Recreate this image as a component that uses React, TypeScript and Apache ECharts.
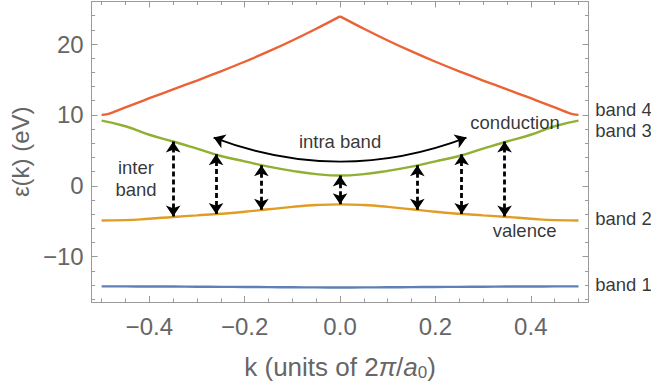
import React, { useEffect, useRef } from "react";
import * as echarts from "echarts";

// ---- data ----
const kGrid = [-0.5, -0.45, -0.4, -0.35, -0.3, -0.25, -0.2, -0.15, -0.1, -0.05, 0, 0.05, 0.1, 0.15, 0.2, 0.25, 0.3, 0.35, 0.4, 0.45, 0.5];
const band1 = [-14.2, -14.2, -14.21, -14.22, -14.24, -14.26, -14.28, -14.3, -14.32, -14.34, -14.35, -14.34, -14.32, -14.3, -14.28, -14.26, -14.24, -14.22, -14.21, -14.2, -14.2];
const band2 = [-4.9, -4.85, -4.65, -4.4, -4.18, -3.95, -3.67, -3.32, -2.98, -2.72, -2.62, -2.72, -2.98, -3.32, -3.67, -3.95, -4.18, -4.4, -4.65, -4.85, -4.9];
const band3 = [9.2, 8.4, 7.2, 6.25, 5.24, 4.2, 3.45, 2.7, 2.1, 1.65, 1.45, 1.65, 2.1, 2.7, 3.45, 4.2, 5.24, 6.25, 7.2, 8.4, 9.2];
// band 4 has a cusp at k = 0: left and right branches
const k4Left = [-0.5, -0.49, -0.475, -0.45, -0.425, -0.4, -0.35, -0.3, -0.25, -0.2, -0.15, -0.1, -0.05, 0];
const band4Left = [10.0, 10.08, 10.4, 11.05, 11.7, 12.35, 13.6, 14.85, 16.15, 17.5, 18.95, 20.5, 22.15, 23.9];
const k4Right = [0, 0.05, 0.1, 0.15, 0.2, 0.25, 0.3, 0.35, 0.4, 0.425, 0.45, 0.475, 0.49, 0.5];
const band4Right = [23.9, 22.15, 20.5, 18.95, 17.5, 16.15, 14.85, 13.6, 12.35, 11.7, 11.05, 10.4, 10.08, 10.0];

// inter-band transition arrows
const arrowK = [-0.35, -0.26, -0.165, 0, 0.162, 0.255, 0.345];
const arrowBottom = [-4.35, -4.0, -3.4, -2.62, -3.4, -4.0, -4.35];
const arrowTop = [6.25, 4.45, 2.9, 1.45, 2.9, 4.45, 6.25];

// intra-band arrow (start, end)
const intraStart = [-0.265, 6.8];
const intraEnd = [0.265, 6.8];

// text annotations
const noteText = ["inter\nband", "intra band", "conduction", "valence"];
const noteK = [-0.428, 0, 0.367, 0.387];
const noteE = [1.0, 6.2, 8.9, -6.3];

const bandLabels = ["band 4", "band 3", "band 2", "band 1"];
const bandLabelE = [10.75, 7.8, -4.6, -13.9];
const bandLabelK = 0.535;

const xMajor = [-0.4, -0.2, 0, 0.2, 0.4];
const xMinor = [-0.5, -0.45, -0.35, -0.3, -0.25, -0.15, -0.1, -0.05, 0.05, 0.1, 0.15, 0.25, 0.3, 0.35, 0.45, 0.5];
const yMajor = [-10, 0, 10, 20];
const yMinor = [-16, -14, -12, -8, -6, -4, -2, 2, 4, 6, 8, 12, 14, 16, 18, 22, 24, 26];

const FONT = "'Liberation Sans', Arial, Helvetica, sans-serif";
const FRAME = "#9a9a9a";
const LABEL = "#666666";

const fmtX = (v: number) => (Math.abs(v) < 1e-9 ? "0.0" : (v < 0 ? "\u2212" : "") + Math.abs(v).toFixed(1));
const fmtY = (v: number) => (v < 0 ? "\u2212" + Math.abs(v) : String(v));

function xAx(pos: "top" | "bottom", major: boolean, extra: any = {}) {
  return {
    type: "value",
    gridIndex: 0,
    min: -0.521,
    max: 0.521,
    position: pos,
    axisLine: { show: major, onZero: false, lineStyle: { color: FRAME, width: 1 } },
    axisTick: {
      show: true,
      inside: true,
      length: major ? 6 : 3.5,
      customValues: major ? xMajor : xMinor,
      lineStyle: { color: FRAME, width: 1 },
    },
    axisLabel: { show: false },
    splitLine: { show: false },
    ...extra,
  };
}

function yAx(pos: "left" | "right", major: boolean, extra: any = {}) {
  return {
    type: "value",
    gridIndex: 0,
    min: -16.4,
    max: 26,
    position: pos,
    axisLine: { show: major, onZero: false, lineStyle: { color: FRAME, width: 1 } },
    axisTick: {
      show: true,
      inside: true,
      length: major ? 6 : 3.5,
      customValues: major ? yMajor : yMinor,
      lineStyle: { color: FRAME, width: 1 },
    },
    axisLabel: { show: false },
    splitLine: { show: false },
    ...extra,
  };
}

export default function App() {
  const ref = useRef<HTMLDivElement>(null);
  useEffect(() => {
    if (!ref.current) return;
    const chart = echarts.init(ref.current, undefined, { renderer: "svg" });
    const lineSeries = (data: number[][], color: string, smooth: boolean | number) => ({
      type: "line",
      xAxisIndex: 0,
      yAxisIndex: 0,
      data,
      smooth,
      showSymbol: false,
      symbol: "none",
      lineStyle: { color, width: 2.4 },
      silent: true,
      z: 3,
    });
    const option: any = {
      animation: false,
      backgroundColor: "#ffffff",
      grid: { left: 91, top: 1.5, width: 497.5, height: 306.8, containLabel: false },
      xAxis: [
        xAx("bottom", true, {
          axisLabel: {
            show: true,
            customValues: xMajor,
            formatter: fmtX,
            color: LABEL,
            fontSize: 24,
            fontFamily: FONT,
            margin: 12,
          },
          name: "{t|k (units of 2}{i|\u03c0}{t|/}{i|a}{s|0}{t|)}",
          nameLocation: "middle",
          nameGap: 51,
          nameTextStyle: {
            color: LABEL,
            fontSize: 26,
            fontFamily: FONT,
            rich: {
              t: { color: LABEL, fontSize: 26, fontFamily: FONT },
              i: { color: LABEL, fontSize: 26, fontFamily: FONT, fontStyle: "italic" },
              s: { color: LABEL, fontSize: 17, fontFamily: FONT, verticalAlign: "bottom", padding: [11, 0, 0, 0] },
            },
          },
        }),
        xAx("bottom", false),
        xAx("top", true),
        xAx("top", false),
      ],
      yAxis: [
        yAx("left", true, {
          axisLabel: {
            show: true,
            customValues: yMajor,
            formatter: fmtY,
            color: LABEL,
            fontSize: 24,
            fontFamily: FONT,
            margin: 8,
          },
          name: "\u03b5(k) (eV)",
          nameLocation: "middle",
          nameGap: 56,
          nameRotate: 90,
          nameTextStyle: { color: LABEL, fontSize: 24, fontFamily: FONT },
        }),
        yAx("left", false),
        yAx("right", true),
        yAx("right", false),
      ],
      series: [
        lineSeries(kGrid.map((k, i) => [k, band1[i]]), "#5E81B5", true),
        lineSeries(kGrid.map((k, i) => [k, band2[i]]), "#E19C24", true),
        lineSeries(kGrid.map((k, i) => [k, band3[i]]), "#8FB032", true),
        lineSeries(k4Left.map((k, i) => [k, band4Left[i]]), "#EB6235", 0.3),
        lineSeries(k4Right.map((k, i) => [k, band4Right[i]]), "#EB6235", 0.3),
        {
          type: "lines",
          coordinateSystem: "cartesian2d",
          xAxisIndex: 0,
          yAxisIndex: 0,
          symbol: ["arrow", "arrow"],
          symbolSize: 11,
          lineStyle: { color: "#000", width: 2.8, type: [5, 3], opacity: 1 },
          silent: true,
          z: 5,
          data: arrowK.map((k, i) => ({ coords: [[k, arrowBottom[i]], [k, arrowTop[i]]] })),
        },
        {
          type: "lines",
          coordinateSystem: "cartesian2d",
          xAxisIndex: 0,
          yAxisIndex: 0,
          symbol: ["arrow", "arrow"],
          symbolSize: 11,
          lineStyle: { color: "#000", width: 1.8, curveness: -0.19, opacity: 1 },
          silent: true,
          z: 5,
          data: [{ coords: [intraStart, intraEnd] }],
        },
        {
          type: "scatter",
          xAxisIndex: 0,
          yAxisIndex: 0,
          clip: false,
          silent: true,
          symbolSize: 1,
          itemStyle: { color: "rgba(0,0,0,0)" },
          z: 6,
          data: [
            ...noteText.map((t, i) => ({
              value: [noteK[i], noteE[i]],
              label: { show: true, position: "inside", formatter: t, align: "center", verticalAlign: "middle" },
            })),
            ...bandLabels.map((t, i) => ({
              value: [bandLabelK, bandLabelE[i]],
              label: { show: true, position: "inside", formatter: t, align: "left", verticalAlign: "middle" },
            })),
          ],
          label: { color: "#000", fontSize: 18.5, fontFamily: FONT, lineHeight: 22 },
        },
      ],
    };
    chart.setOption(option);
    return () => chart.dispose();
  }, []);
  return (
    <div
      ref={ref}
      style={{ position: "fixed", left: 0, top: 0, width: 651, height: 386, background: "#fff" }}
    />
  );
}
